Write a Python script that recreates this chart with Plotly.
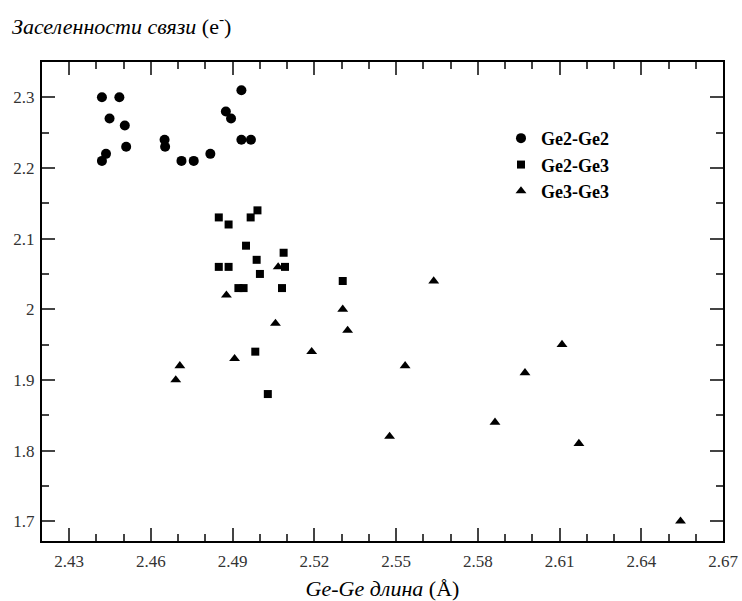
import plotly.graph_objects as go

# Ge2-Ge2 (circles)
ge22_x = [2.442, 2.4484, 2.4448, 2.4504, 2.4509, 2.465, 2.4652, 2.4435, 2.442,
          2.4712, 2.4757, 2.4818, 2.4875, 2.4894, 2.4932, 2.4932, 2.4967]
ge22_y = [2.30, 2.30, 2.27, 2.26, 2.23, 2.24, 2.23, 2.22, 2.21,
          2.21, 2.21, 2.22, 2.28, 2.27, 2.31, 2.24, 2.24]

# Ge2-Ge3 (squares)
ge23_x = [2.4849, 2.4885, 2.4991, 2.4966, 2.4949, 2.5087, 2.4988, 2.4849, 2.4885,
          2.5092, 2.5000, 2.4921, 2.4940, 2.5081, 2.5304, 2.4983, 2.5029]
ge23_y = [2.13, 2.12, 2.14, 2.13, 2.09, 2.08, 2.07, 2.06, 2.06,
          2.06, 2.05, 2.03, 2.03, 2.03, 2.04, 1.94, 1.88]

# Ge3-Ge3 (triangles)
ge33_x = [2.5067, 2.4877, 2.5057, 2.5304, 2.5322, 2.519, 2.4907, 2.4706, 2.4691,
          2.5638, 2.5533, 2.6109, 2.5973, 2.5863, 2.6171, 2.6544, 2.5476]
ge33_y = [2.06, 2.02, 1.98, 2.00, 1.97, 1.94, 1.93, 1.92, 1.90,
          2.04, 1.92, 1.95, 1.91, 1.84, 1.81, 1.70, 1.82]

series_names = ["Ge2-Ge2", "Ge2-Ge3", "Ge3-Ge3"]
x_ticks = [2.43, 2.46, 2.49, 2.52, 2.55, 2.58, 2.61, 2.64, 2.67]
y_ticks = [1.7, 1.8, 1.9, 2.0, 2.1, 2.2, 2.3]
y_tick_text = ["1.7", "1.8", "1.9", "2", "2.1", "2.2", "2.3"]

SERIF = "'Liberation Serif', 'Times New Roman', Times, serif"

fig = go.Figure()
fig.add_trace(go.Scatter(x=ge22_x, y=ge22_y, mode="markers", name=series_names[0],
                         marker=dict(symbol="circle", size=10, color="black")))
fig.add_trace(go.Scatter(x=ge23_x, y=ge23_y, mode="markers", name=series_names[1],
                         marker=dict(symbol="square", size=8, color="black")))
fig.add_trace(go.Scatter(x=ge33_x, y=ge33_y, mode="markers", name=series_names[2],
                         marker=dict(symbol="triangle-up", size=9.5, color="black")))

axis_common = dict(
    showline=True, linecolor="black", linewidth=2, mirror="allticks",
    ticks="inside", ticklen=13, tickwidth=1.5, tickcolor="#444",
    showgrid=False, zeroline=False, automargin=False,
    tickfont=dict(family=SERIF, size=17, color="#333"),
)

fig.update_xaxes(
    range=[2.42, 2.67], tickvals=x_ticks, ticktext=[f"{v:.2f}" for v in x_ticks],
    minor=dict(dtick=0.01, tick0=2.42, ticks="inside", ticklen=7, tickwidth=1.5, tickcolor="#444"),
    title=dict(text="<i>Ge-Ge длина</i> (Å)", font=dict(family=SERIF, size=22, color="black"),
               standoff=14),
    ticklabelstandoff=4,
    **axis_common,
)
fig.update_yaxes(
    range=[1.672, 2.35], tickvals=y_ticks, ticktext=y_tick_text,
    minor=dict(dtick=0.05, tick0=1.65, ticks="inside", ticklen=7, tickwidth=1.5, tickcolor="#444"),
    ticklabelstandoff=2,
    **axis_common,
)

fig.update_layout(
    width=742, height=601,
    margin=dict(l=42, r=19, t=62, b=60),
    paper_bgcolor="white", plot_bgcolor="white",
    font=dict(family=SERIF),
    title=dict(text="<i>Заселенности связи</i> (e<sup>-</sup>)",
               x=12 / 742, xanchor="left", xref="container",
               y=1 - 26 / 601, yanchor="middle", yref="container",
               font=dict(family=SERIF, size=22, color="black")),
    legend=dict(x=0.674, y=0.879, xanchor="left", yanchor="top",
                font=dict(family=SERIF, size=18, color="black", weight="bold"),
                bgcolor="rgba(0,0,0,0)", borderwidth=0),
    showlegend=True,
)

fig.write_html("out.html")
